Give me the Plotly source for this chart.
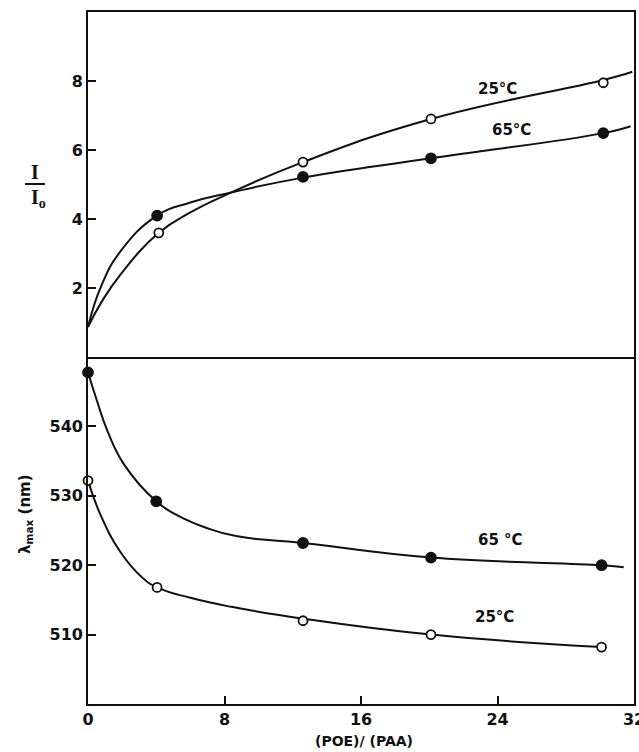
import plotly.graph_objects as go

x_pts_top_65 = [4.05, 12.6, 20.1, 30.2]
y_pts_top_65 = [4.1, 5.22, 5.76, 6.49]
x_pts_top_25 = [4.15, 12.6, 20.1, 30.2]
y_pts_top_25 = [3.6, 5.65, 6.9, 7.95]

x_pts_bot_65 = [0.0, 4.0, 12.6, 20.1, 30.1]
y_pts_bot_65 = [547.8, 529.2, 523.2, 521.1, 520.0]
x_pts_bot_25 = [0.0, 4.05, 12.6, 20.1, 30.1]
y_pts_bot_25 = [532.2, 516.8, 512.0, 510.0, 508.2]

# ---- drawn smooth curves ----
x_curve_top_65 = [0.0, 0.76, 1.9, 4.05, 6.0, 8.4, 12.6, 20.1, 30.2, 31.8]
y_curve_top_65 = [0.87, 2.04, 3.06, 4.1, 4.48, 4.77, 5.2, 5.76, 6.49, 6.69]
x_curve_top_25 = [0.0, 0.76, 1.9, 4.15, 6.0, 8.4, 12.6, 20.1, 30.2, 31.9]
y_curve_top_25 = [0.87, 1.57, 2.39, 3.6, 4.19, 4.77, 5.65, 6.9, 8.03, 8.27]

x_curve_bot_65 = [0.0, 0.51, 1.15, 2.12, 4.0, 5.16, 6.92, 8.68, 12.6, 20.1, 30.1, 31.4]
y_curve_bot_65 = [547.8, 543.8, 539.3, 534.5, 529.2, 527.3, 525.4, 524.2, 523.2, 521.1, 520.0, 519.7]
x_curve_bot_25 = [0.0, 0.76, 1.9, 3.1, 4.05, 6.0, 8.4, 12.6, 20.1, 30.1]
y_curve_bot_25 = [532.2, 527.1, 521.9, 518.4, 516.8, 515.3, 514.0, 512.3, 510.0, 508.2]

x_ticks = [0, 8, 16, 24, 32]
y_ticks_top = [2, 4, 6, 8]
y_ticks_bot = [510, 520, 530, 540]

FONT = "DejaVu Sans"
BLACK = "#111111"

fig = go.Figure()

def curve(x, y, xa, ya):
    fig.add_trace(go.Scatter(x=x, y=y, mode="lines", xaxis=xa, yaxis=ya,
                             line=dict(color=BLACK, width=2, shape="spline", smoothing=1.3),
                             showlegend=False, hoverinfo="skip"))

def points(x, y, xa, ya, filled):
    fig.add_trace(go.Scatter(x=x, y=y, mode="markers", xaxis=xa, yaxis=ya,
                             marker=dict(size=10 if filled else 9,
                                         color=BLACK if filled else "white",
                                         line=dict(color=BLACK, width=1.8)),
                             showlegend=False, cliponaxis=False))

curve(x_curve_top_65, y_curve_top_65, "x2", "y2")
curve(x_curve_top_25, y_curve_top_25, "x2", "y2")
curve(x_curve_bot_65, y_curve_bot_65, "x", "y")
curve(x_curve_bot_25, y_curve_bot_25, "x", "y")
points(x_pts_top_65, y_pts_top_65, "x2", "y2", True)
points(x_pts_top_25, y_pts_top_25, "x2", "y2", False)
points(x_pts_bot_65, y_pts_bot_65, "x", "y", True)
points(x_pts_bot_25, y_pts_bot_25, "x", "y", False)

tickfont = dict(family=FONT, size=16, color=BLACK, weight="bold")
split = 0.5014
LW = 1.6

common = dict(showgrid=False, zeroline=False, automargin=False,
              showline=True, linecolor=BLACK, linewidth=LW)

fig.update_layout(
    width=650, height=752,
    margin=dict(l=88, r=16, t=12, b=48),
    paper_bgcolor="white", plot_bgcolor="white",
    font=dict(family=FONT, color=BLACK),
    xaxis=dict(range=[0, 32], domain=[0, 1], anchor="y", tickvals=x_ticks,
               ticks="inside", ticklen=8, tickwidth=2, tickcolor=BLACK,
               mirror=False, tickfont=tickfont, **common),
    yaxis=dict(range=[500, 550], domain=[0, split], anchor="x", tickvals=y_ticks_bot,
               ticks="inside", ticklen=8, tickwidth=2, tickcolor=BLACK,
               mirror=True, tickfont=tickfont, **common),
    xaxis2=dict(range=[0, 32], domain=[0, 1], anchor="y2", matches="x",
                showticklabels=False, ticks="", mirror=True, **common),
    yaxis2=dict(range=[0, 10], domain=[split, 1], anchor="x2", tickvals=y_ticks_top,
                ticks="inside", ticklen=8, tickwidth=2, tickcolor=BLACK,
                mirror=True, tickfont=tickfont, **common),
)

labfont = dict(family=FONT, size=15, color=BLACK, weight="bold")
# temperature labels
for (x, y, xr, yr, t) in [(24.0, 7.77, "x2", "y2", "25°C"),
                          (24.8, 6.58, "x2", "y2", "65°C"),
                          (24.2, 523.7, "x", "y", "65 °C"),
                          (23.8, 512.5, "x", "y", "25°C")]:
    fig.add_annotation(x=x, y=y, xref=xr, yref=yr, text=t, showarrow=False, font=labfont,
                       xanchor="center", yanchor="middle")

# axis titles (positions given in page pixels, converted to paper units)
def px(xp):
    return (xp - 88) / 546.0
def py(yp):
    return (704 - yp) / 692.0

def label(xp, yp, text, font, angle=0):
    fig.add_annotation(x=px(xp), y=py(yp), xref="paper", yref="paper", text=text,
                       showarrow=False, font=font, textangle=angle,
                       xanchor="center", yanchor="middle")

titfont = dict(family="Liberation Serif", size=20, color=BLACK, weight="bold")
label(35, 172, "I", titfont)
label(38, 199, "I<sub>o</sub>", titfont)
fig.add_shape(type="line", xref="paper", yref="paper",
              x0=px(25), x1=px(45), y0=py(184), y1=py(184),
              line=dict(color=BLACK, width=2))
label(25, 514, "λ<sub>max</sub> (nm)", dict(family=FONT, size=15, color=BLACK, weight="bold"), -90)
label(364, 741, "(POE)/ (PAA)", dict(family=FONT, size=14, color=BLACK, weight="bold"))

fig.write_html("out.html", config={"displayModeBar": False},
               post_script="document.body.style.margin='0';")
